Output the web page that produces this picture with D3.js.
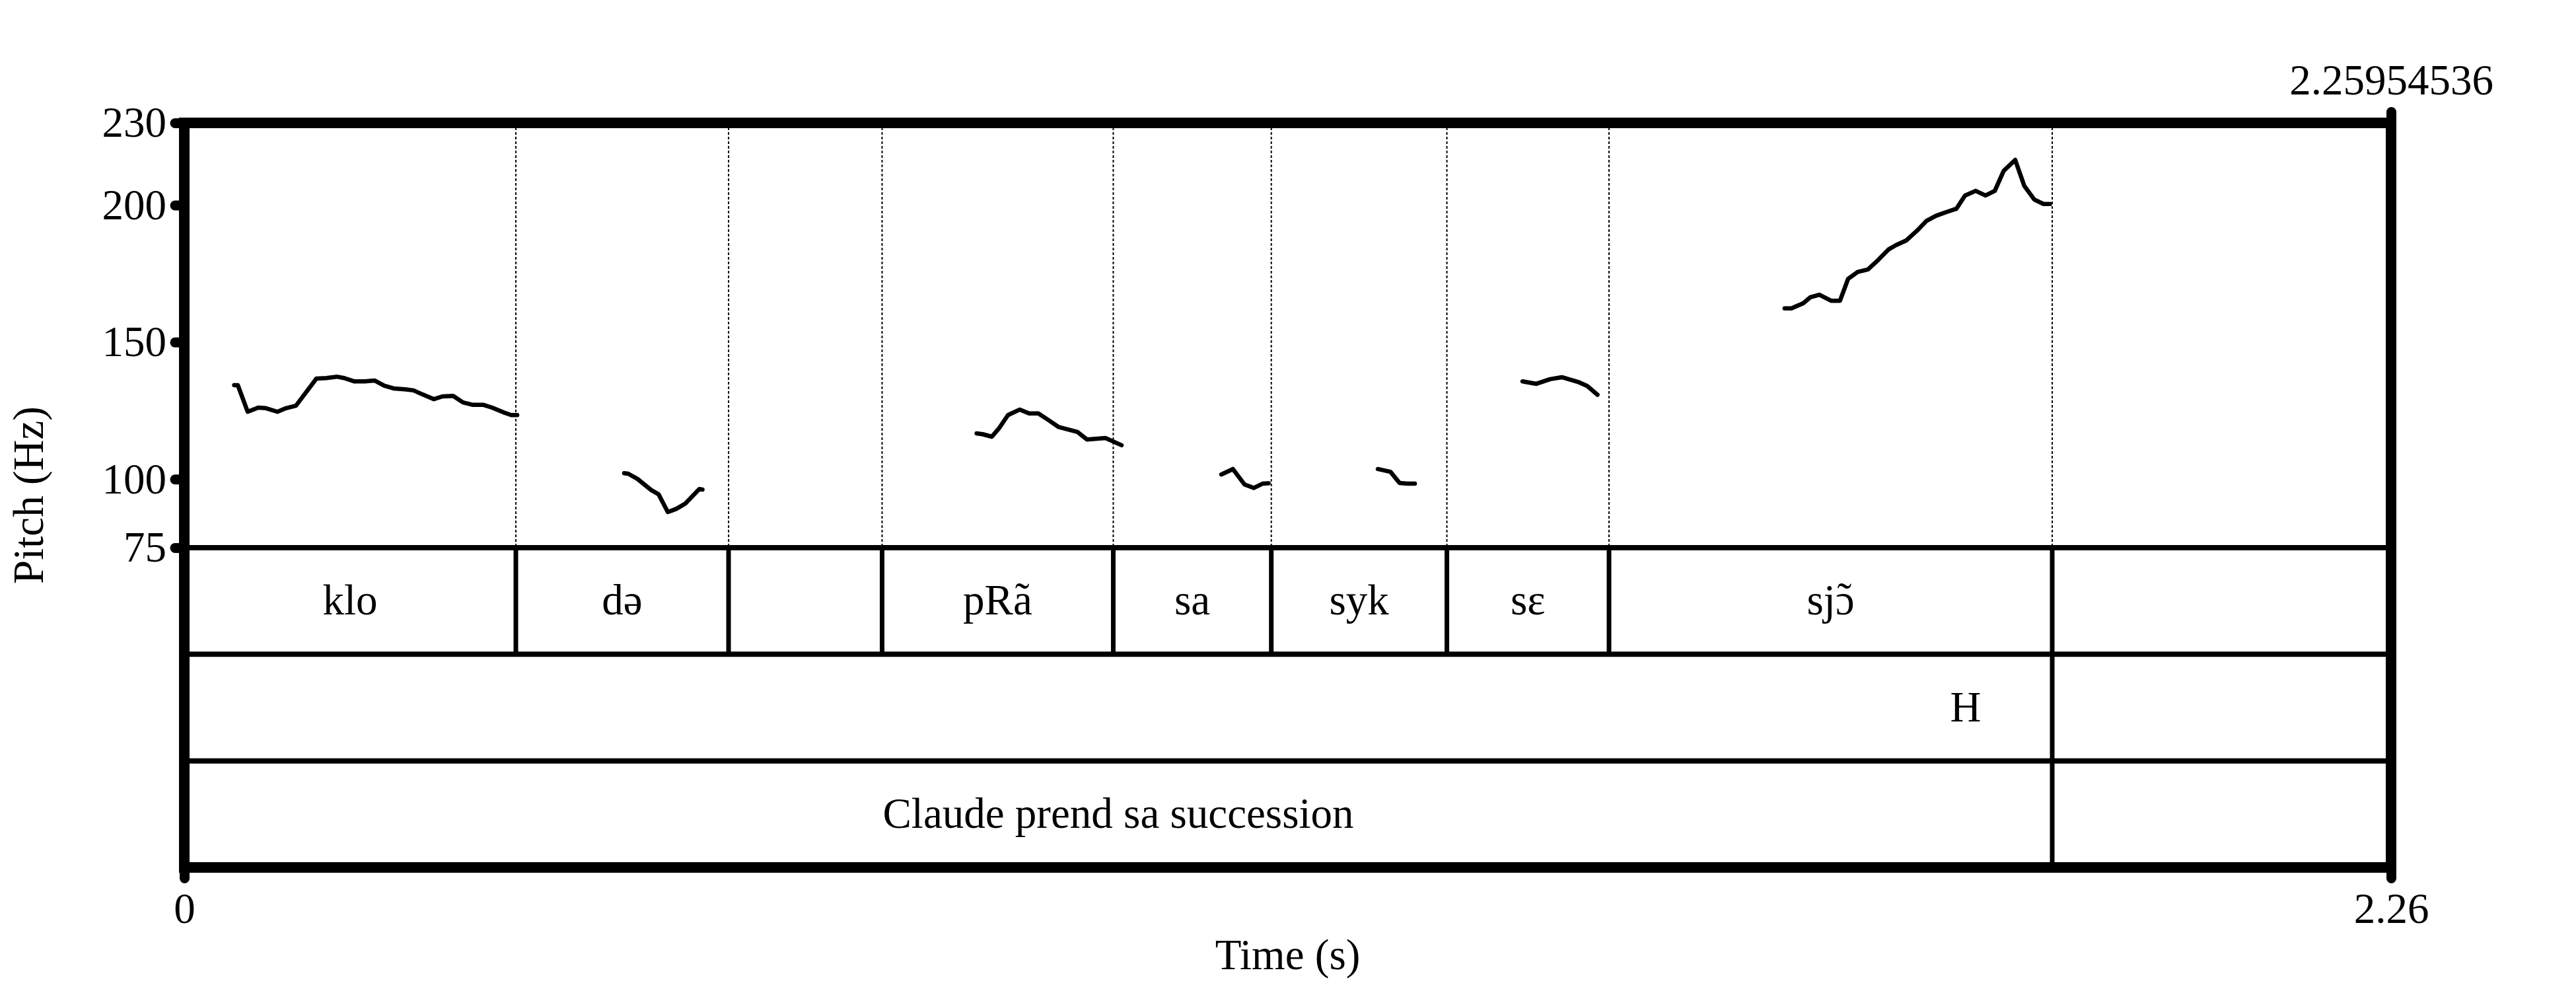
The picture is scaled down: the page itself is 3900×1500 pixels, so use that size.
<!DOCTYPE html>
<html>
<head>
<meta charset="utf-8">
<script src="https://cdn.jsdelivr.net/npm/d3@7"></script>
<style>
  html, body { margin: 0; padding: 0; background: #ffffff; }
  svg { display: block; }
  text { font-family: "Liberation Serif", "Times New Roman", Times, serif; fill: #000; }
</style>
</head>
<body>
<script>
// ---------------- data ----------------
const tMax = 2.25954536;
const pitchMin = 75, pitchMax = 230;
const yTickValues = [75, 100, 150, 200, 230];
const xBottomTickValues = [0, tMax];
const xBottomTickLabels = ["0", "2.26"];
const xTopTickValues = [tMax];
const xTopTickLabels = ["2.25954536"];

// tier 1 (syllables)
const tier1Bounds = [0.3395, 0.5573, 0.7145, 0.9512, 1.1130, 1.2928, 1.4588, 1.9126];
const tier1Labels = ["klo", "d\u0259", "", "pRa\u0303", "sa", "syk", "s\u025B", "sj\u0254\u0303", ""];
// tier 2 (tones, point tier)
const tier2Bounds = [1.9126];
const tier2Points = [1.824];
const tier2Labels = ["H"];
// tier 3 (sentence)
const tier3Bounds = [1.9126];
const tier3Labels = ["Claude prend sa succession", ""];

// pitch contour segments: [time (s), F0 (Hz)]
const f0_klo = [[0.0511,134.3],[0.0548,134.3],[0.0649,124.6],[0.0757,126.1],[0.0835,125.9],[0.0954,124.6],[0.1042,125.9],[0.1143,126.8],[0.1353,136.7],[0.1454,136.9],[0.1562,137.4],[0.1637,136.9],[0.1738,135.7],[0.1846,135.7],[0.1948,136.0],[0.2049,134.1],[0.2144,133.1],[0.2259,132.8],[0.2347,132.4],[0.2441,130.9],[0.2556,129.2],[0.2644,130.2],[0.2753,130.4],[0.2854,128.0],[0.2956,127.1],[0.3064,127.1],[0.3152,126.1],[0.3267,124.4],[0.3348,123.4],[0.3409,123.4]];
const f0_de = [[0.4504,102.2],[0.4545,102.0],[0.4640,100.1],[0.4782,96.0],[0.4856,94.5],[0.4951,88.0],[0.5039,89.2],[0.5130,91.1],[0.5208,94.0],[0.5273,96.4],[0.5306,96.2]];
const f0_pra = [[0.8113,116.7],[0.8175,116.4],[0.8269,115.5],[0.8339,118.4],[0.8434,123.4],[0.8555,125.4],[0.8650,124.0],[0.8745,124.0],[0.8839,121.8],[0.8954,119.0],[0.9147,117.2],[0.9242,114.5],[0.9432,115.0],[0.9502,113.9],[0.9597,112.4]];
const f0_sa = [[1.0618,101.7],[1.0737,103.7],[1.0855,98.1],[1.0950,96.8],[1.1044,98.4],[1.1102,98.5]];
const f0_syk = [[1.2221,103.7],[1.2350,102.7],[1.2444,98.6],[1.2516,98.4],[1.2600,98.4]];
const f0_se = [[1.3702,135.7],[1.3844,134.8],[1.3986,136.5],[1.4105,137.2],[1.4270,135.5],[1.4365,134.0],[1.4470,130.8]];
const f0_sjo = [[1.6386,162.3],[1.6455,162.3],[1.6577,164.2],[1.6651,166.4],[1.6742,167.3],[1.6861,165.1],[1.6953,165.1],[1.7036,173.1],[1.7134,175.6],[1.7239,176.5],[1.7347,180.1],[1.7449,183.8],[1.7527,185.4],[1.7631,187.1],[1.7740,190.6],[1.7841,194.3],[1.7936,196.1],[1.8037,197.4],[1.8146,198.7],[1.8233,203.5],[1.8342,205.2],[1.8443,203.5],[1.8538,205.2],[1.8629,212.5],[1.8747,216.5],[1.8840,207.0],[1.8943,202.0],[1.9037,200.4],[1.9103,200.4]];
const f0Segments = [f0_klo, f0_de, f0_pra, f0_sa, f0_syk, f0_se, f0_sjo];

// ---------------- layout ----------------
(function () {
const W = 3900, H = 1500;
const pLeft = 279, pRight = 3620, pTop = 186, pitchBottom = 829, pBottom = 1313;
const nTiers = 3;
const tierH = (pBottom - pitchBottom) / nTiers;
const fontSize = 65;

const svg = d3.select("body").append("svg")
  .attr("width", W).attr("height", H)
  .attr("viewBox", `0 0 ${W} ${H}`);
svg.append("rect").attr("width", W).attr("height", H).attr("fill", "#fff");

const x = d3.scaleLinear().domain([0, tMax]).range([pLeft, pRight]);
const y = d3.scaleLinear().domain([pitchMin, pitchMax]).range([pitchBottom, pTop]);

// dotted boundary lines in pitch area
svg.append("g").selectAll("line").data(tier1Bounds).join("line")
  .attr("x1", d => x(d)).attr("x2", d => x(d))
  .attr("y1", pTop).attr("y2", pitchBottom)
  .attr("stroke", "#000").attr("stroke-width", 2)
  .attr("stroke-dasharray", "4,3");

// tier horizontal separators
const tierTops = d3.range(nTiers).map(i => pitchBottom + i * tierH);
svg.append("g").selectAll("line").data(tierTops).join("line")
  .attr("x1", pLeft).attr("x2", pRight)
  .attr("y1", d => d).attr("y2", d => d)
  .attr("stroke", "#000").attr("stroke-width", 8);

// label writer: a base letter followed by U+0303 gets a separately placed tilde
function writeLabel(sel, label) {
  const parts = label.split(/(.\u0303)/).filter(s => s.length);
  parts.forEach(p => {
    if (p.length === 2 && p[1] === "\u0303") {
      sel.append("tspan").text(p[0]);
      sel.append("tspan").attr("dx", "-0.40em").attr("dy", "-0.05em").text("\u02DC");
      sel.append("tspan").attr("dy", "0.05em").attr("dx", "0.05em").text("");
    } else {
      sel.append("tspan").text(p);
    }
  });
}

// tier boundaries + labels
function drawTier(bounds, labels, idx) {
  const y0 = pitchBottom + idx * tierH, y1 = y0 + tierH;
  const g = svg.append("g");
  g.selectAll("line").data(bounds).join("line")
    .attr("x1", d => x(d)).attr("x2", d => x(d))
    .attr("y1", y0).attr("y2", y1)
    .attr("stroke", "#000").attr("stroke-width", 7);
  if (labels) {
    const edges = [0, ...bounds, tMax];
    g.selectAll("text").data(labels).join("text")
      .attr("x", (d, i) => (x(edges[i]) + x(edges[i + 1])) / 2)
      .attr("y", (y0 + y1) / 2 + 0.32 * fontSize)
      .attr("text-anchor", "middle")
      .attr("font-size", fontSize)
      .each(function (d) { writeLabel(d3.select(this), d); });
  }
}
drawTier(tier1Bounds, tier1Labels, 0);
drawTier(tier2Bounds, null, 1);
drawTier(tier3Bounds, tier3Labels, 2);
svg.append("g").selectAll("text").data(tier2Points).join("text")
  .attr("x", d => x(d))
  .attr("y", pitchBottom + 1.5 * tierH + 0.32 * fontSize)
  .attr("text-anchor", "middle")
  .attr("font-size", fontSize)
  .text((d, i) => tier2Labels[i]);

// pitch contours
const line = d3.line().x(d => x(d[0])).y(d => y(d[1]));
svg.append("g").selectAll("path").data(f0Segments).join("path")
  .attr("d", line)
  .attr("fill", "none").attr("stroke", "#000")
  .attr("stroke-width", 6.5)
  .attr("stroke-linejoin", "round").attr("stroke-linecap", "round");

// frame
svg.append("rect")
  .attr("x", pLeft).attr("y", pTop)
  .attr("width", pRight - pLeft).attr("height", pBottom - pTop)
  .attr("fill", "none").attr("stroke", "#000").attr("stroke-width", 16);

// axes
function styleAxis(g) {
  g.select(".domain").remove();
  g.selectAll(".tick line")
    .attr("stroke", "#000").attr("stroke-width", 15).attr("stroke-linecap", "round");
  g.selectAll(".tick text")
    .attr("font-family", "'Liberation Serif', 'Times New Roman', serif")
    .attr("font-size", fontSize).attr("fill", "#000");
}
svg.append("g").attr("transform", `translate(${pLeft},0)`)
  .call(d3.axisLeft(y).tickValues(yTickValues).tickSize(14).tickPadding(13).tickFormat(d3.format("d")))
  .call(styleAxis);
svg.append("g").attr("transform", `translate(0,${pBottom})`)
  .call(d3.axisBottom(x).tickValues(xBottomTickValues).tickSize(16.5).tickPadding(21.5)
    .tickFormat((d, i) => xBottomTickLabels[i]))
  .call(styleAxis);
svg.append("g").attr("transform", `translate(0,${pTop})`)
  .call(d3.axisTop(x).tickValues(xTopTickValues).tickSize(16.5).tickPadding(26.5)
    .tickFormat((d, i) => xTopTickLabels[i]))
  .call(styleAxis);

// axis titles
svg.append("text")
  .attr("x", (pLeft + pRight) / 2).attr("y", 1467)
  .attr("text-anchor", "middle").attr("font-size", fontSize)
  .text("Time (s)");
svg.append("text")
  .attr("transform", `translate(65,${(pTop + pBottom) / 2}) rotate(-90)`)
  .attr("text-anchor", "middle").attr("font-size", fontSize)
  .text("Pitch (Hz)");
})();
</script>
</body>
</html>
